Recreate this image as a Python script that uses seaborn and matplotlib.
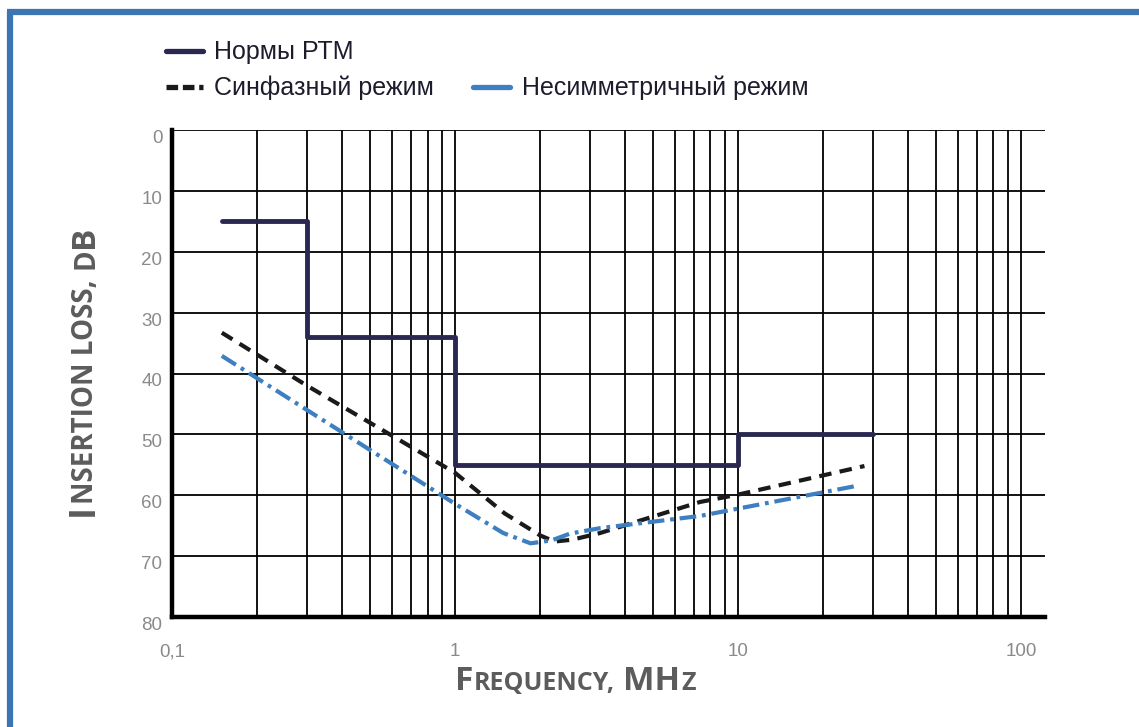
import matplotlib
matplotlib.use("Agg")
import matplotlib.pyplot as plt
import matplotlib.ticker as mticker
from matplotlib.lines import Line2D
from matplotlib.transforms import IdentityTransform
import seaborn as sns
import pandas as pd

# Данные
norm_freq = [0.15, 0.3, 1, 10, 30]
norm_db = [15, 34, 55, 50, 50]

cm_freq = [0.15, 0.3, 1, 1.5, 2.0, 2.25, 2.6, 3.26, 7.35, 10, 28]
cm_db = [33.3, 42.0, 56.3, 63.0, 66.6, 67.6, 67.3, 66.2, 61.1, 59.9, 55.2]

dm_freq = [0.15, 0.3, 1, 1.48, 1.85, 2.2, 2.55, 3.26, 7.35, 10, 26]
dm_db = [37.1, 46.0, 61.4, 66.2, 67.9, 67.4, 66.3, 65.4, 63.4, 62.2, 58.5]

x_ticks = [0.1, 1, 10, 100]
x_tick_labels = ["0,1", "1", "10", "100"]
y_ticks = [0, 10, 20, 30, 40, 50, 60, 70, 80]

labels = ["Нормы РТМ", "Синфазный режим", "Несимметричный режим"]

NAVY = "#2a2850"
BLUE = "#3d7fc1"
GREY = "#5c5c5c"

sns.set_style("white")
plt.rcParams["font.family"] = ["Liberation Sans", "DejaVu Sans"]

fig = plt.figure(figsize=(11.39, 7.27), dpi=100)
ax = fig.add_axes([172 / 1139, 1 - 617 / 727, (1045 - 172) / 1139, (617 - 130) / 727])

df_norm = pd.DataFrame({"f": norm_freq, "db": norm_db})
df_cm = pd.DataFrame({"f": cm_freq, "db": cm_db})
df_dm = pd.DataFrame({"f": dm_freq, "db": dm_db})

sns.lineplot(data=df_norm, x="f", y="db", ax=ax, color=NAVY, lw=3.5,
             drawstyle="steps-post", zorder=5)
sns.lineplot(data=df_cm, x="f", y="db", ax=ax, color="#1a1a1a", lw=3.0,
             zorder=4).lines[-1].set_dashes((3.0, 2.0))
sns.lineplot(data=df_dm, x="f", y="db", ax=ax, color=BLUE, lw=3.0,
             zorder=4).lines[-1].set_dashes((4.0, 1.4, 0.9, 1.4))

ax.set_xscale("log")
ax.set_xlim(0.1, 121.7)
ax.set_ylim(80, 0)

ax.xaxis.set_major_locator(mticker.FixedLocator(x_ticks))
ax.xaxis.set_major_formatter(mticker.FixedFormatter(x_tick_labels))
ax.xaxis.set_minor_locator(mticker.LogLocator(base=10, subs=range(2, 10)))
ax.xaxis.set_minor_formatter(mticker.NullFormatter())
ax.set_yticks(y_ticks)
ax.set_yticklabels([str(v) for v in y_ticks])

ax.grid(True, which="both", axis="x", color="black", lw=1.3)
ax.grid(True, which="major", axis="y", color="black", lw=1.3)
ax.set_axisbelow(True)

for side in ["top", "right"]:
    ax.spines[side].set_visible(False)
for side in ["left", "bottom"]:
    ax.spines[side].set_linewidth(3.2)
    ax.spines[side].set_color("black")

ax.tick_params(axis="both", which="both", length=0, colors="#8a8a8a", labelsize=13.5)
ax.tick_params(axis="x", pad=19)
ax.tick_params(axis="y", pad=7)
for t in ax.get_yticklabels():
    t.set_verticalalignment("top")
ax.set_xlabel("")
ax.set_ylabel("")

# Легенда: пустой элемент, чтобы третий пункт встал во вторую строку
handles = [
    Line2D([], [], color=NAVY, lw=3.8),
    Line2D([], [], color="#1a1a1a", lw=3.8, dashes=(2.2, 0.9)),
    Line2D([], [], color="none"),
    Line2D([], [], color=BLUE, lw=3.8),
]
fig.legend(handles, [labels[0], labels[1], "", labels[2]], ncol=2,
           loc="upper left", bbox_to_anchor=(153 / 1139, 1 - 28 / 727),
           frameon=False, fontsize=18, handlelength=1.5, handletextpad=0.45,
           columnspacing=1.55, labelspacing=0.45, labelcolor="#1c1c2c",
           borderpad=0)

# Подписи осей капителью
renderer = fig.canvas.get_renderer()


def small_caps(x, y, parts, rotation=0):
    for text, size in parts:
        if text == " ":
            if rotation == 0:
                x += size
            else:
                y += size
            continue
        t = fig.text(x, y, text, transform=IdentityTransform(), fontsize=size,
                     rotation=rotation, rotation_mode="anchor", ha="left",
                     va="baseline", color=GREY, fontweight="bold",
                     family=["Open Sans", "DejaVu Sans"])
        bb = t.get_window_extent(renderer)
        if rotation == 0:
            x = bb.x1 + 0.5
        else:
            y = bb.y1 + 0.5


small_caps(455, 727 - 690, [("F", 24), ("REQUENCY,", 18), (" ", 8),
                            ("MH", 24), ("Z", 18)])
small_caps(93, 727 - 516, [("I", 26), ("NSERTION LOSS,", 20), (" ", 9),
                           ("D", 20), ("B", 24)], rotation=90)

# Синяя рамка слева и сверху
fig.add_artist(Line2D([10 / 1139, 10 / 1139], [0, 1 - 12 / 727], color="#3b76b3",
                      lw=4.5, solid_capstyle="butt", transform=fig.transFigure))
fig.add_artist(Line2D([7 / 1139, 1], [1 - 12 / 727, 1 - 12 / 727], color="#3b76b3",
                      lw=4.5, solid_capstyle="butt", transform=fig.transFigure))

fig.savefig("out.png", dpi=100)
